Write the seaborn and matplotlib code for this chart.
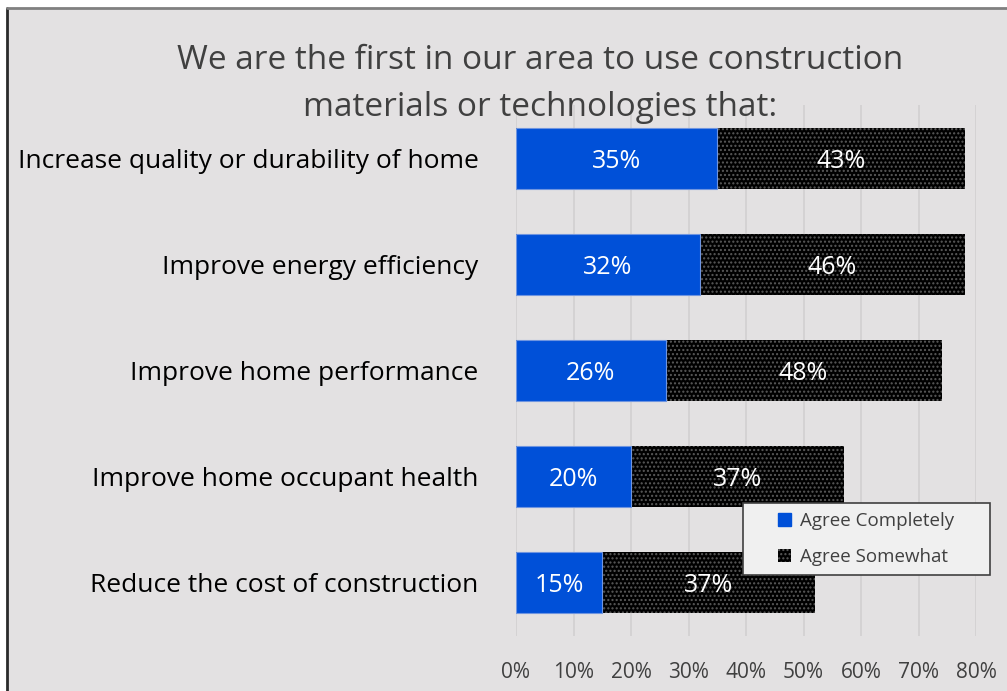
import matplotlib
matplotlib.use("Agg")
import matplotlib.pyplot as plt
from matplotlib.patches import Rectangle, Patch
import seaborn as sns
import pandas as pd

categories = ["Increase quality or durability of home",
              "Improve energy efficiency",
              "Improve home performance",
              "Improve home occupant health",
              "Reduce the cost of construction"]
agree_completely = [35, 32, 26, 20, 15]
agree_somewhat = [43, 46, 48, 37, 37]
tick_labels = ["0%", "10%", "20%", "30%", "40%", "50%", "60%", "70%", "80%"]

title = "We are the first in our area to use construction\nmaterials or technologies that:"

bg = "#e3e1e2"
blue = "#0050d8"
txt = "#404040"

sns.set_style("white")
plt.rcParams['font.family'] = ['Open Sans', 'DejaVu Sans']
plt.rcParams['hatch.linewidth'] = 1.0

df = pd.DataFrame({"cat": categories,
                   "comp": [c / 100 for c in agree_completely],
                   "some": [s / 100 for s in agree_somewhat]})
df["total"] = df["comp"] + df["some"]

fig = plt.figure(figsize=(10.07, 6.91), dpi=100, facecolor="white")
# chart area background with border (cropped at right and bottom)
fig.add_artist(Rectangle((7 / 1007, -0.05), 1.1, (691 - 8) / 691 + 0.05,
                         transform=fig.transFigure, facecolor=bg,
                         edgecolor="none", zorder=0))
fig.add_artist(plt.Line2D([7 / 1007, 7 / 1007], [0, (691 - 8) / 691],
                          transform=fig.transFigure, color="#2a2a2a", lw=2))
fig.add_artist(plt.Line2D([7 / 1007, 1], [(691 - 8) / 691, (691 - 8) / 691],
                          transform=fig.transFigure, color="#808080", lw=2))

ax = fig.add_axes([516 / 1007, 55 / 691, 460 / 1007, 531 / 691])
ax.set_facecolor("none")

sns.barplot(data=df, y="cat", x="total", orient="h", color="black",
            width=0.575, ax=ax, zorder=2)
sns.barplot(data=df, y="cat", x="comp", orient="h", color=blue,
            width=0.575, ax=ax, zorder=3)

n = len(categories)
for i, p in enumerate(ax.patches):
    if i < n:
        p.set_facecolor("black")
        p.set_hatch("....")
        p.set_edgecolor("#5a5a5a")
        p.set_linewidth(0)
    else:
        p.set_facecolor(blue)
        p.set_edgecolor("#6f95e0")
        p.set_linewidth(0.8)

for i in range(n):
    c = df["comp"][i]
    s = df["some"][i]
    ax.text(c / 2, i, f"{agree_completely[i]}%", color="white",
            ha="center", va="center_baseline", fontsize=18, zorder=5)
    ax.text(c + s / 2, i, f"{agree_somewhat[i]}%", color="white",
            ha="center", va="center_baseline", fontsize=18, zorder=5)

ax.set_xlim(0, 0.8)
ax.set_ylim(n - 0.5, -0.5)
ax.set_xticks([k / 10 for k in range(9)])
ax.set_xticklabels(tick_labels, fontsize=15, color=txt)
ax.tick_params(axis="x", length=0, pad=19)
ax.tick_params(axis="y", length=0, pad=27)
ax.set_yticks(range(n))
ax.set_yticklabels(categories, fontsize=19, color="black")
ax.xaxis.grid(True, color="#d2d0d1", lw=1.2, zorder=0)
ax.set_axisbelow(True)
for sp in ax.spines.values():
    sp.set_visible(False)
ax.set_xlabel("")
ax.set_ylabel("")

fig.text(540 / 1007, 1 - 84 / 691, title, ha="center", va="center",
         fontsize=24, color=txt, linespacing=1.55)

# legend box
fig.add_artist(Rectangle((743 / 1007, 1 - 575 / 691), 247 / 1007, 72 / 691,
                         transform=fig.transFigure, facecolor="#f0f0f0",
                         edgecolor="#404040", lw=1.2, zorder=8))
handles = [Patch(facecolor=blue, edgecolor=blue, label="Agree Completely"),
           Patch(facecolor="black", edgecolor="#5a5a5a", hatch="....",
                 lw=0, label="Agree Somewhat")]
leg = fig.legend(handles=handles, loc="center",
                 bbox_to_anchor=(866 / 1007, 1 - 539 / 691),
                 frameon=False, fontsize=13.5,
                 handlelength=0.7, handleheight=0.7, handletextpad=0.5,
                 labelspacing=0.95, borderpad=0.6, borderaxespad=0)
leg.set_zorder(10)
for t in leg.get_texts():
    t.set_color(txt)

fig.savefig("out.png", dpi=100, facecolor="white")
